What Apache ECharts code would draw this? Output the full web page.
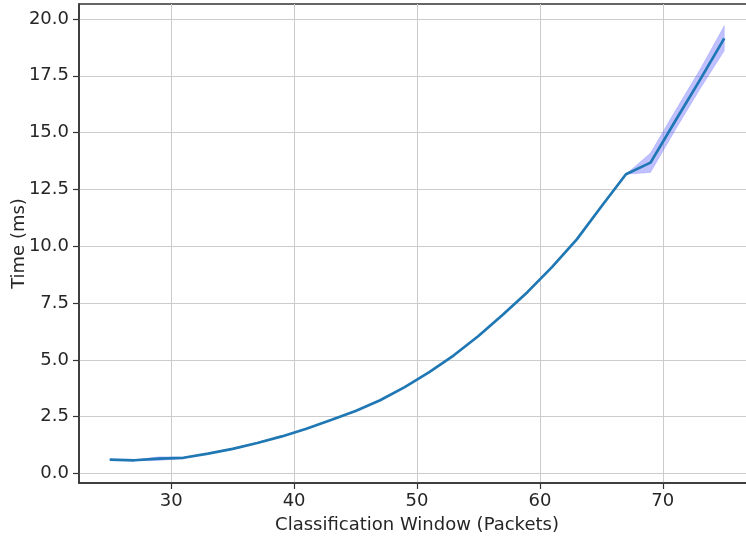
<!DOCTYPE html>
<html>
<head>
<meta charset="utf-8">
<script src="https://cdn.jsdelivr.net/npm/echarts@6/dist/echarts.min.js"></script>
<style>
html,body{margin:0;padding:0;background:#fff;overflow:hidden;}
#chart{width:756px;height:539px;}
</style>
</head>
<body>
<div id="chart"></div>
<script>
// Classification window (packets)
var windows = [25,27,29,31,33,35,37,39,41,43,45,47,49,51,53,55,57,59,61,63,65,67,69,71,73,75];
// Mean time (ms)
var meanTime = [0.61,0.58,0.65,0.69,0.87,1.08,1.34,1.63,1.97,2.35,2.75,3.22,3.80,4.46,5.20,6.05,7.00,7.99,9.09,10.30,11.75,13.17,13.68,15.50,17.30,19.15];
// Confidence band lower / upper (ms)
var lowerTime = [0.60,0.56,0.57,0.66,0.87,1.08,1.34,1.63,1.97,2.35,2.75,3.22,3.80,4.46,5.20,6.05,7.00,7.99,9.09,10.30,11.75,13.17,13.25,15.10,16.90,18.60];
var upperTime = [0.62,0.60,0.73,0.72,0.87,1.08,1.34,1.63,1.97,2.35,2.75,3.22,3.80,4.46,5.20,6.05,7.00,7.99,9.09,10.30,11.75,13.17,14.10,15.95,17.75,19.70];
var xTicks = [30,40,50,60,70];
var yTicks = [0,2.5,5,7.5,10,12.5,15,17.5,20];

var meanData = windows.map(function(x,i){return [x, meanTime[i]];});
var bandData = windows.map(function(x,i){return [x, lowerTime[i], upperTime[i]];});

var txt = '#262626';
var font = 'DejaVu Sans';
var chart = echarts.init(document.getElementById('chart'), null, {renderer:'canvas'});
chart.setOption({
  animation:false,
  backgroundColor:'#fff',
  grid:{left:79,top:4,right:1,bottom:56,outerBoundsMode:'none',containLabel:false,show:true,borderColor:'#333',borderWidth:1.5,backgroundColor:'transparent'},
  xAxis:{
    type:'value',min:22.5,max:77.5,
    name:'Classification Window (Packets)',nameLocation:'middle',nameGap:33,nameMoveOverlap:false,
    nameTextStyle:{fontFamily:font,fontSize:18,color:txt},
    axisLine:{show:true,onZero:false,lineStyle:{color:'#333',width:1.5}},
    axisTick:{show:true,length:6,inside:false,lineStyle:{color:'#333',width:1.2},customValues:xTicks},
    axisLabel:{fontFamily:font,fontSize:18,color:txt,margin:9,customValues:xTicks,formatter:function(v){return String(v);}},
    splitLine:{show:true,lineStyle:{color:'#cccccc',width:1}}
  },
  yAxis:{
    type:'value',min:-0.42,max:20.66,
    name:'Time (ms)',nameLocation:'middle',nameGap:51,nameRotate:90,nameMoveOverlap:false,
    nameTextStyle:{fontFamily:font,fontSize:18,color:txt},
    axisLine:{show:true,onZero:false,lineStyle:{color:'#333',width:1.5}},
    axisTick:{show:true,length:6,inside:false,lineStyle:{color:'#333',width:1.2},customValues:yTicks},
    axisLabel:{fontFamily:font,fontSize:18,color:txt,margin:10,customValues:yTicks,formatter:function(v){return v.toFixed(1);}},
    splitLine:{show:true,lineStyle:{color:'#cccccc',width:1}}
  },
  series:[
    {type:'custom',data:[0],silent:true,z:1,
      renderItem:function(params, api){
        if (params.dataIndex !== 0) return null;
        var pts = [];
        for (var i=0;i<bandData.length;i++) pts.push(api.coord([bandData[i][0], bandData[i][2]]));
        for (var j=bandData.length-1;j>=0;j--) pts.push(api.coord([bandData[j][0], bandData[j][1]]));
        return {type:'polygon',shape:{points:pts},style:{fill:'rgba(90,90,255,0.38)',stroke:'rgba(90,90,255,0.25)',lineWidth:0.8}};
      }
    },
    {type:'line',data:meanData,symbol:'none',lineStyle:{color:'#1f77b4',width:2.7},z:3}
  ]
});
</script>
</body>
</html>
